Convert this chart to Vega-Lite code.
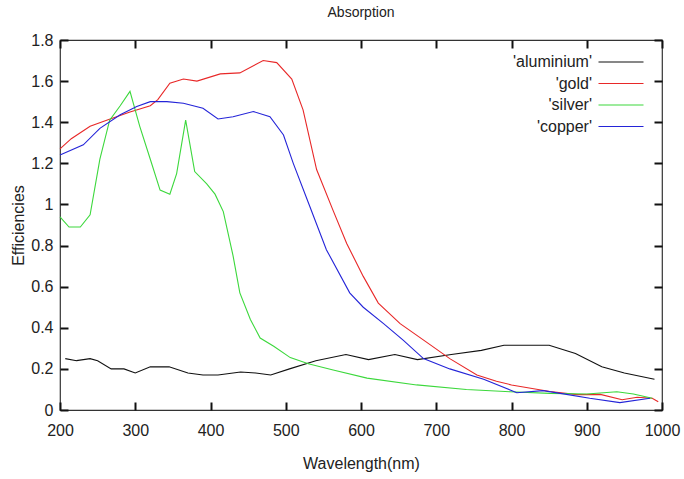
{
  "$schema": "https://vega.github.io/schema/vega-lite/v6.json",
  "width": 602,
  "height": 370,
  "autosize": {"type": "none"},
  "padding": {"left": 60, "top": 40, "right": 22, "bottom": 69},
  "background": "white",
  "title": {"text": "Absorption", "fontSize": 14, "font": "Liberation Sans", "fontWeight": "normal", "color": "#222", "offset": 12},
  "config": {
    "view": {"stroke": "#333", "strokeWidth": 1.2},
    "axis": {
      "domain": false, "grid": false, "offset": -8, "ticks": true, "tickOpacity": 1, "zindex": 2,
      "tickColor": "#111111", "tickSize": 8, "tickWidth": 2,
      "labelFont": "Liberation Sans", "labelFontSize": 16, "labelColor": "#222",
      "titleFont": "Liberation Sans", "titleFontSize": 16, "titleFontWeight": "normal", "titleColor": "#222"
    },
    "legend": {"labelFont": "Liberation Sans", "labelFontSize": 16, "labelColor": "#222"}
  },
  "data": {"values": [
    {"s": "'aluminium'", "w": 207, "v": 0.25}, {"s": "'aluminium'", "w": 222, "v": 0.24}, {"s": "'aluminium'", "w": 240, "v": 0.25},
    {"s": "'aluminium'", "w": 250, "v": 0.24}, {"s": "'aluminium'", "w": 268, "v": 0.2}, {"s": "'aluminium'", "w": 285, "v": 0.2},
    {"s": "'aluminium'", "w": 300, "v": 0.18}, {"s": "'aluminium'", "w": 320, "v": 0.21}, {"s": "'aluminium'", "w": 345, "v": 0.21},
    {"s": "'aluminium'", "w": 370, "v": 0.18}, {"s": "'aluminium'", "w": 390, "v": 0.17}, {"s": "'aluminium'", "w": 410, "v": 0.17},
    {"s": "'aluminium'", "w": 440, "v": 0.185}, {"s": "'aluminium'", "w": 460, "v": 0.18}, {"s": "'aluminium'", "w": 480, "v": 0.17},
    {"s": "'aluminium'", "w": 505, "v": 0.2}, {"s": "'aluminium'", "w": 540, "v": 0.24}, {"s": "'aluminium'", "w": 580, "v": 0.27},
    {"s": "'aluminium'", "w": 610, "v": 0.245}, {"s": "'aluminium'", "w": 645, "v": 0.27}, {"s": "'aluminium'", "w": 675, "v": 0.245},
    {"s": "'aluminium'", "w": 720, "v": 0.27}, {"s": "'aluminium'", "w": 760, "v": 0.29}, {"s": "'aluminium'", "w": 790, "v": 0.315},
    {"s": "'aluminium'", "w": 850, "v": 0.315}, {"s": "'aluminium'", "w": 885, "v": 0.275}, {"s": "'aluminium'", "w": 920, "v": 0.21},
    {"s": "'aluminium'", "w": 950, "v": 0.18}, {"s": "'aluminium'", "w": 990, "v": 0.15},

    {"s": "'gold'", "w": 200, "v": 1.27}, {"s": "'gold'", "w": 215, "v": 1.32}, {"s": "'gold'", "w": 240, "v": 1.38},
    {"s": "'gold'", "w": 262, "v": 1.41}, {"s": "'gold'", "w": 293, "v": 1.45}, {"s": "'gold'", "w": 320, "v": 1.48},
    {"s": "'gold'", "w": 330, "v": 1.51}, {"s": "'gold'", "w": 346, "v": 1.59}, {"s": "'gold'", "w": 364, "v": 1.61},
    {"s": "'gold'", "w": 382, "v": 1.6}, {"s": "'gold'", "w": 413, "v": 1.635}, {"s": "'gold'", "w": 439, "v": 1.64},
    {"s": "'gold'", "w": 470, "v": 1.7}, {"s": "'gold'", "w": 488, "v": 1.69}, {"s": "'gold'", "w": 508, "v": 1.61},
    {"s": "'gold'", "w": 523, "v": 1.46}, {"s": "'gold'", "w": 541, "v": 1.17}, {"s": "'gold'", "w": 563, "v": 0.97},
    {"s": "'gold'", "w": 581, "v": 0.81}, {"s": "'gold'", "w": 603, "v": 0.65}, {"s": "'gold'", "w": 623, "v": 0.52},
    {"s": "'gold'", "w": 652, "v": 0.42}, {"s": "'gold'", "w": 687, "v": 0.33}, {"s": "'gold'", "w": 718, "v": 0.25},
    {"s": "'gold'", "w": 754, "v": 0.17}, {"s": "'gold'", "w": 780, "v": 0.14}, {"s": "'gold'", "w": 800, "v": 0.122},
    {"s": "'gold'", "w": 851, "v": 0.09}, {"s": "'gold'", "w": 887, "v": 0.075}, {"s": "'gold'", "w": 918, "v": 0.076},
    {"s": "'gold'", "w": 947, "v": 0.05}, {"s": "'gold'", "w": 967, "v": 0.062}, {"s": "'gold'", "w": 987, "v": 0.057},
    {"s": "'gold'", "w": 995, "v": 0.04},

    {"s": "'silver'", "w": 200, "v": 0.94}, {"s": "'silver'", "w": 212, "v": 0.89}, {"s": "'silver'", "w": 227, "v": 0.89},
    {"s": "'silver'", "w": 240, "v": 0.95}, {"s": "'silver'", "w": 253, "v": 1.22}, {"s": "'silver'", "w": 266, "v": 1.41},
    {"s": "'silver'", "w": 280, "v": 1.48}, {"s": "'silver'", "w": 293, "v": 1.55}, {"s": "'silver'", "w": 306, "v": 1.38},
    {"s": "'silver'", "w": 320, "v": 1.22}, {"s": "'silver'", "w": 333, "v": 1.07}, {"s": "'silver'", "w": 346, "v": 1.05},
    {"s": "'silver'", "w": 355, "v": 1.15}, {"s": "'silver'", "w": 367, "v": 1.41}, {"s": "'silver'", "w": 379, "v": 1.16},
    {"s": "'silver'", "w": 395, "v": 1.1}, {"s": "'silver'", "w": 406, "v": 1.05}, {"s": "'silver'", "w": 417, "v": 0.965},
    {"s": "'silver'", "w": 430, "v": 0.75}, {"s": "'silver'", "w": 439, "v": 0.57}, {"s": "'silver'", "w": 453, "v": 0.44},
    {"s": "'silver'", "w": 466, "v": 0.35}, {"s": "'silver'", "w": 484, "v": 0.31}, {"s": "'silver'", "w": 506, "v": 0.255},
    {"s": "'silver'", "w": 530, "v": 0.225}, {"s": "'silver'", "w": 563, "v": 0.195}, {"s": "'silver'", "w": 608, "v": 0.155},
    {"s": "'silver'", "w": 674, "v": 0.122}, {"s": "'silver'", "w": 740, "v": 0.1}, {"s": "'silver'", "w": 798, "v": 0.089},
    {"s": "'silver'", "w": 851, "v": 0.081}, {"s": "'silver'", "w": 900, "v": 0.078}, {"s": "'silver'", "w": 940, "v": 0.089},
    {"s": "'silver'", "w": 962, "v": 0.078}, {"s": "'silver'", "w": 987, "v": 0.057},

    {"s": "'copper'", "w": 200, "v": 1.24}, {"s": "'copper'", "w": 231, "v": 1.29}, {"s": "'copper'", "w": 253, "v": 1.37},
    {"s": "'copper'", "w": 280, "v": 1.436}, {"s": "'copper'", "w": 302, "v": 1.476}, {"s": "'copper'", "w": 320, "v": 1.5},
    {"s": "'copper'", "w": 342, "v": 1.5}, {"s": "'copper'", "w": 364, "v": 1.492}, {"s": "'copper'", "w": 390, "v": 1.468},
    {"s": "'copper'", "w": 410, "v": 1.416}, {"s": "'copper'", "w": 430, "v": 1.427}, {"s": "'copper'", "w": 457, "v": 1.452},
    {"s": "'copper'", "w": 479, "v": 1.427}, {"s": "'copper'", "w": 497, "v": 1.338}, {"s": "'copper'", "w": 510, "v": 1.2},
    {"s": "'copper'", "w": 532, "v": 0.99}, {"s": "'copper'", "w": 554, "v": 0.78}, {"s": "'copper'", "w": 585, "v": 0.57},
    {"s": "'copper'", "w": 603, "v": 0.5}, {"s": "'copper'", "w": 630, "v": 0.42}, {"s": "'copper'", "w": 656, "v": 0.34},
    {"s": "'copper'", "w": 683, "v": 0.25}, {"s": "'copper'", "w": 718, "v": 0.2}, {"s": "'copper'", "w": 763, "v": 0.15},
    {"s": "'copper'", "w": 807, "v": 0.084}, {"s": "'copper'", "w": 842, "v": 0.094}, {"s": "'copper'", "w": 873, "v": 0.076},
    {"s": "'copper'", "w": 904, "v": 0.057}, {"s": "'copper'", "w": 944, "v": 0.036}, {"s": "'copper'", "w": 984, "v": 0.057}
  ]},
  "layer": [
    {
      "mark": {"type": "line", "strokeWidth": 1.1},
      "encoding": {
        "x": {"field": "w", "type": "quantitative", "scale": {"domain": [200, 1000], "nice": false},
              "axis": {"title": "Wavelength(nm)", "values": [200, 300, 400, 500, 600, 700, 800, 900, 1000], "format": "d", "labelFlush": false, "labelPadding": 12, "titlePadding": 17}},
        "y": {"field": "v", "type": "quantitative", "scale": {"domain": [0, 1.8], "nice": false},
              "axis": {"title": "Efficiencies", "values": [0, 0.2, 0.4, 0.6, 0.8, 1, 1.2, 1.4, 1.6, 1.8], "format": "~g", "labelPadding": 7, "titlePadding": 4}},
        "color": {"field": "s", "type": "nominal",
                  "scale": {"domain": ["'aluminium'", "'gold'", "'silver'", "'copper'"], "range": ["#111111", "#e82828", "#3cd83c", "#2424d8"]},
                  "legend": {"title": null, "orient": "none", "legendX": 553, "legendY": 14, "symbolType": "M-4.5,0H4.5", "symbolSize": 100,
                             "symbolStrokeWidth": 1.2, "labelAlign": "right", "labelOffset": -37, "rowPadding": 5.5}}
      }
    },
    {
      "mark": {"type": "line", "opacity": 0},
      "encoding": {
        "x": {"field": "w", "type": "quantitative", "axis": {"orient": "top", "labels": false, "title": null, "values": [200, 300, 400, 500, 600, 700, 800, 900, 1000]}},
        "y": {"field": "v", "type": "quantitative", "axis": {"orient": "right", "labels": false, "title": null, "values": [0, 0.2, 0.4, 0.6, 0.8, 1, 1.2, 1.4, 1.6, 1.8]}},
        "detail": {"field": "s"}
      }
    }
  ],
  "resolve": {"axis": {"x": "independent", "y": "independent"}}
}
